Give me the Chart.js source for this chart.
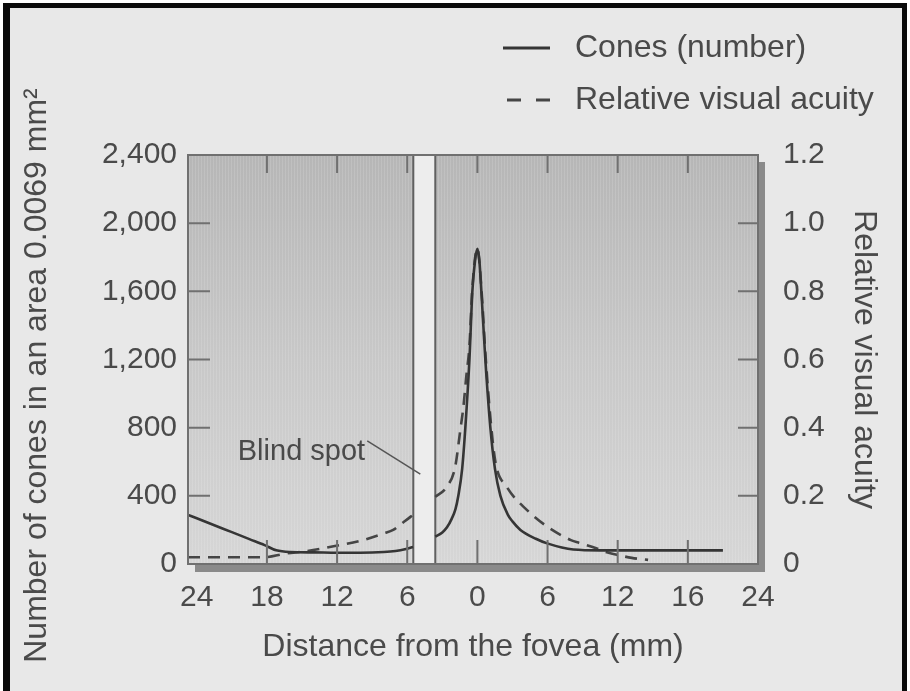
<!DOCTYPE html>
<html>
<head>
<meta charset="utf-8">
<title>Cones and relative visual acuity</title>
<script src="https://cdn.jsdelivr.net/npm/chart.js@4.4.1/dist/chart.umd.min.js"></script>
<style>
  html, body { margin: 0; padding: 0; background: #fff; }
  #wrap { width: 910px; height: 691px; }
</style>
</head>
<body>
<div id="wrap"><canvas id="retina" width="910" height="691"></canvas></div>
<script>
// x is in plot units: one tick step = 6, fovea at 0 (labels as printed in the figure)
const xTickValues = [-24, -18, -12, -6, 0, 6, 12, 18, 24];
const xTickLabels = ['24', '18', '12', '6', '0', '6', '12', '16', '24'];
const coneTickValues = [0, 400, 800, 1200, 1600, 2000, 2400];
const coneTickLabels = ['0', '400', '800', '1,200', '1,600', '2,000', '2,400'];
const acuityTickValues = [0, 0.2, 0.4, 0.6, 0.8, 1.0, 1.2];
const acuityTickLabels = ['0', '0.2', '0.4', '0.6', '0.8', '1.0', '1.2'];

// cones per 0.0069 mm2 (null = blind spot)
const conesX = [-24.75, -24, -22.5, -21, -19.5, -18.2, -17.2, -16, -14, -12, -10, -8, -7, -6.2, -5.5,
  -4.5,
  -3.6, -3.0, -2.6, -2.2, -1.88, -1.63, -1.3, -1.03, -0.68, -0.43, -0.2, 0, 0.17, 0.34, 0.68, 1.11, 1.5, 1.97, 2.6, 3.0, 3.68, 5.0, 5.97, 8.2, 10.5, 14, 18, 21];
const conesCount = [288, 268, 227, 187, 146, 111, 80, 70, 68, 66, 66, 70, 76, 86, 100,
  null,
  160, 185, 215, 265, 320, 400, 560, 800, 1200, 1600, 1780, 1850, 1780, 1600, 1200, 800, 560, 400, 290, 250, 200, 148, 121, 85, 80, 80, 80, 80];

// relative visual acuity (right axis)
const acuityX = [-24.75, -18.2, -16.5, -14.6, -12.3, -9.8, -8.0, -7.2, -6.5, -5.7, -5.5,
  -4.5,
  -3.6, -2.6, -1.9, -1.46, -1.2, -0.95, -0.68, -0.43, 0, 0.34, 0.68, 1.11, 1.54, 2.5, 4.25, 6.0, 8.0, 8.8, 10.1, 10.9, 12.2, 13.2, 14.6];
const acuityValue = [0.02, 0.02, 0.03, 0.038, 0.052, 0.07, 0.09, 0.1, 0.118, 0.139, 0.145,
  null,
  0.197, 0.227, 0.285, 0.393, 0.46, 0.55, 0.64, 0.81, 0.925, 0.81, 0.62, 0.43, 0.3, 0.227, 0.158, 0.109, 0.07, 0.061, 0.047, 0.036, 0.025, 0.018, 0.012];

const blindSpot = [-5.48, -3.6];
const blindSpotLabel = { text: 'Blind spot', x: -9.6, y: 657 };
const blindSpotPointer = [[-9.42, 722], [-4.88, 528]];
const coneAxisTitle = 'Number of cones in an area 0.0069 mm\u00B2';

const ink = '#4a4a4a';
const axisGray = '#707070';
const family = '"Liberation Sans", Arial, sans-serif';
const font30 = { family: family, size: 30 };
const font32 = { family: family, size: 32 };

const points = (xs, ys) => xs.map((x, i) => ({ x: x, y: ys[i] }));

const paperPlugin = {
  id: 'paper',
  beforeDraw(chart) {
    const { ctx, chartArea: a, width, height } = chart;
    ctx.save();
    ctx.fillStyle = '#ffffff';
    ctx.fillRect(0, 0, width, height);
    ctx.fillStyle = '#0a0a0a';
    ctx.fillRect(3, 3, width - 6, height);
    ctx.fillStyle = '#e8e8e8';
    ctx.fillRect(10, 8, width - 18, height);

    // drop shadow of the plot box
    ctx.fillStyle = '#8a8a8a';
    ctx.fillRect(a.left + 7, a.top + 7, a.right - a.left, a.bottom - a.top + 1);

    const g = ctx.createLinearGradient(0, a.top, 0, a.bottom);
    g.addColorStop(0, '#b6b6b6');
    g.addColorStop(0.5, '#c8c8c8');
    g.addColorStop(1, '#d6d6d6');
    ctx.fillStyle = g;
    ctx.fillRect(a.left, a.top, a.right - a.left, a.bottom - a.top);
    ctx.fillStyle = 'rgba(255,255,255,0.13)';
    for (let x = a.left + 1; x < a.right; x += 3) {
      ctx.fillRect(x, a.top, 1, a.bottom - a.top);
    }

    const xs = chart.scales.x;
    const b0 = xs.getPixelForValue(blindSpot[0]);
    const b1 = xs.getPixelForValue(blindSpot[1]);
    ctx.fillStyle = '#ededed';
    ctx.fillRect(b0, a.top, b1 - b0, a.bottom - a.top);
    ctx.strokeStyle = '#606060';
    ctx.lineWidth = 2;
    ctx.beginPath();
    ctx.moveTo(b0, a.top); ctx.lineTo(b0, a.bottom);
    ctx.moveTo(b1, a.top); ctx.lineTo(b1, a.bottom);
    ctx.stroke();

    // left axis title
    ctx.translate(37, (a.top + a.bottom) / 2 + 16);
    ctx.rotate(-Math.PI / 2);
    ctx.fillStyle = ink;
    ctx.font = '32px ' + family;
    ctx.textAlign = 'center';
    ctx.textBaseline = 'middle';
    ctx.fillText(coneAxisTitle, 0, 0);
    ctx.restore();
  },
  afterDatasetsDraw(chart) {
    const { ctx, chartArea: a, scales } = chart;
    ctx.save();
    ctx.strokeStyle = axisGray;
    ctx.lineWidth = 2;
    ctx.strokeRect(a.left, a.top, a.right - a.left, a.bottom - a.top);

    // inward tick marks on all four sides
    ctx.beginPath();
    xTickValues.slice(1, -1).forEach(v => {
      const px = scales.x.getPixelForValue(v);
      ctx.moveTo(px, a.bottom); ctx.lineTo(px, a.bottom - 24);
      ctx.moveTo(px, a.top); ctx.lineTo(px, a.top + 18);
    });
    coneTickValues.slice(1, -1).forEach(v => {
      const py = scales.y.getPixelForValue(v);
      ctx.moveTo(a.left, py); ctx.lineTo(a.left + 22, py);
    });
    acuityTickValues.slice(1, -1).forEach(v => {
      const py = scales.y2.getPixelForValue(v);
      ctx.moveTo(a.right, py); ctx.lineTo(a.right - 20, py);
    });
    ctx.stroke();

    // blind spot annotation
    ctx.strokeStyle = '#555555';
    ctx.lineWidth = 1.5;
    ctx.beginPath();
    ctx.moveTo(scales.x.getPixelForValue(blindSpotPointer[0][0]), scales.y.getPixelForValue(blindSpotPointer[0][1]));
    ctx.lineTo(scales.x.getPixelForValue(blindSpotPointer[1][0]), scales.y.getPixelForValue(blindSpotPointer[1][1]));
    ctx.stroke();
    ctx.fillStyle = ink;
    ctx.font = '29px ' + family;
    ctx.textAlign = 'right';
    ctx.textBaseline = 'middle';
    ctx.fillText(blindSpotLabel.text, scales.x.getPixelForValue(blindSpotLabel.x), scales.y.getPixelForValue(blindSpotLabel.y));

    // legend, top right, one entry per row
    ctx.textAlign = 'left';
    ctx.font = '32px ' + family;
    chart.data.datasets.forEach((ds, i) => {
      const y = 48 + i * 52;
      ctx.strokeStyle = ds.borderColor;
      ctx.lineWidth = 3;
      ctx.setLineDash(i === 0 ? [] : [14, 15]);
      ctx.beginPath();
      ctx.moveTo(i === 0 ? 503 : 507, y);
      ctx.lineTo(550, y);
      ctx.stroke();
      ctx.setLineDash([]);
      ctx.fillStyle = ink;
      ctx.fillText(ds.label, 575, y);
    });
    ctx.restore();
  }
};

new Chart(document.getElementById('retina'), {
  type: 'line',
  data: {
    datasets: [
      {
        label: 'Cones (number)',
        data: points(conesX, conesCount),
        yAxisID: 'y',
        borderColor: '#353535',
        borderWidth: 2.6,
        pointRadius: 0,
        cubicInterpolationMode: 'monotone',
        spanGaps: false
      },
      {
        label: 'Relative visual acuity',
        data: points(acuityX, acuityValue),
        yAxisID: 'y2',
        borderColor: '#454545',
        borderWidth: 2.6,
        borderDash: [12, 8],
        pointRadius: 0,
        cubicInterpolationMode: 'monotone',
        spanGaps: false
      }
    ]
  },
  options: {
    responsive: false,
    animation: false,
    devicePixelRatio: 1,
    layout: { padding: { top: 155, left: 0, right: 0, bottom: 0 } },
    plugins: { legend: { display: false }, tooltip: { enabled: false } },
    scales: {
      x: {
        type: 'linear',
        position: 'bottom',
        min: -24.75,
        max: 24,
        afterBuildTicks: s => { s.ticks = xTickValues.map(v => ({ value: v })); },
        afterFit: s => { s.height = 127; },
        grid: { display: false, drawTicks: false },
        border: { display: false },
        ticks: { callback: (v, i) => xTickLabels[i], color: ink, font: font30, padding: 16, maxRotation: 0, autoSkip: false },
        title: { display: true, text: 'Distance from the fovea (mm)', color: ink, font: font32, padding: { top: 0, bottom: 25 } }
      },
      y: {
        position: 'left',
        min: 0,
        max: 2400,
        afterBuildTicks: s => { s.ticks = coneTickValues.map(v => ({ value: v })); },
        afterFit: s => { s.width = 188; },
        grid: { display: false, drawTicks: false },
        border: { display: false },
        ticks: { callback: (v, i) => coneTickLabels[i], color: ink, font: font30, padding: 11 },
        title: { display: false }
      },
      y2: {
        position: 'right',
        min: 0,
        max: 1.2,
        afterBuildTicks: s => { s.ticks = acuityTickValues.map(v => ({ value: v })); },
        afterFit: s => { s.width = 152; },
        grid: { display: false, drawTicks: false },
        border: { display: false },
        ticks: { callback: (v, i) => acuityTickLabels[i], color: ink, font: font30, padding: 25 },
        title: { display: true, text: 'Relative visual acuity', color: ink, font: font32, padding: { top: 27, bottom: 0 } }
      }
    }
  },
  plugins: [paperPlugin]
});
</script>
</body>
</html>
